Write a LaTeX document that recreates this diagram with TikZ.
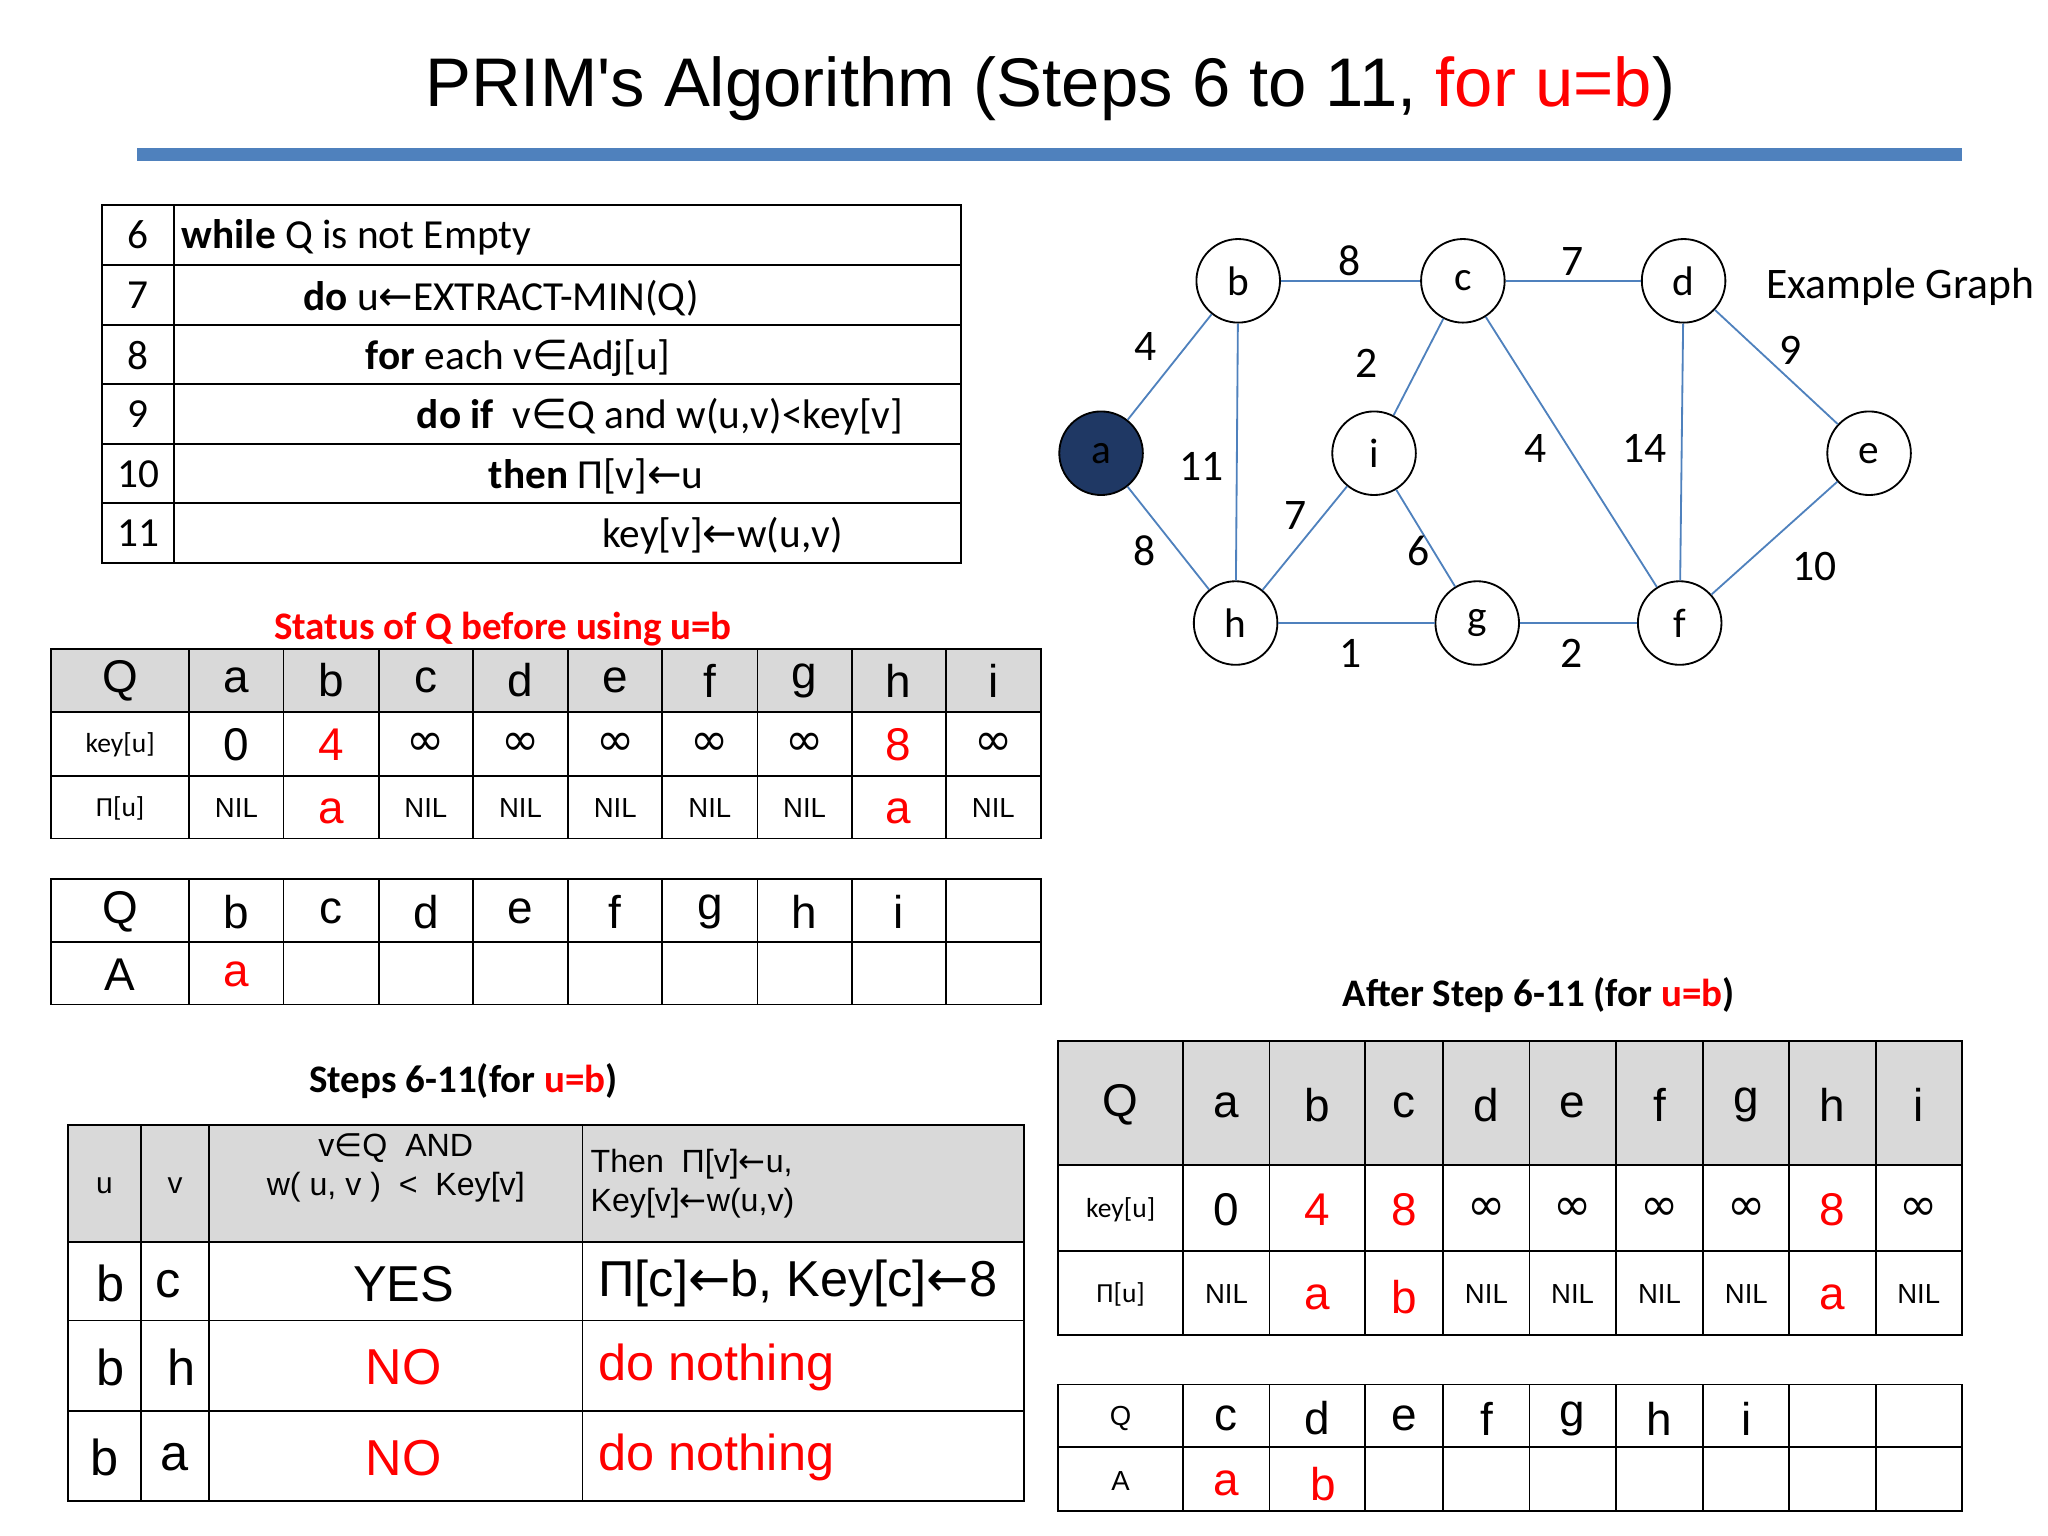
\documentclass[tikz,border=0pt]{standalone}
\usepackage{fontspec}
\setmainfont{Carlito}
\newfontfamily\arfont{Liberation Sans}
\newfontfamily\djfont{DejaVu Sans}
\newcommand\myla{{\djfont\char"2190}}
\newcommand\myin{{\djfont\char"2208}}
\newcommand\myinf{{\djfont\char"221E}}
\definecolor{hb}{RGB}{79,129,189}
\definecolor{gr}{RGB}{217,217,217}
\definecolor{nb}{RGB}{31,56,100}
\begin{document}
\begin{tikzpicture}[x=0.02cm,y=-0.02cm,
  gn/.style={circle,draw,thick,minimum size=1.28cm,inner sep=0pt,font=\fontsize{18}{20}\selectfont},
  ed/.style={hb,thick},
  el/.style={font=\fontsize{19}{21}\selectfont},
  tl/.style={line width=0.8pt},
  cf/.style={font=\fontsize{18}{20}\selectfont,anchor=west},
  big/.style={font=\arfont\fontsize{20}{22}\selectfont},
  sm/.style={font=\fontsize{12}{14}\selectfont},
  bigger/.style={font=\arfont\fontsize{22}{24}\selectfont}]
\useasboundingbox (0,0) rectangle (1568,1176);
% title
\node[font=\arfont\fontsize{30}{32}\selectfont] (title) at (804,68) {PRIM's Algorithm (Steps 6 to 11, \textcolor{red}{for u=b})};
\fill[hb] (105,113) rectangle (1502,123);
% pseudo-code table
\draw[tl] (78,157) rectangle (736,431);
\draw[tl] (133,157) -- (133,431);
\foreach \y in {203,249,294,340,385} \draw[tl] (78,\y) -- (736,\y);
\foreach \n/\y in {6/180,7/226,8/272,9/317,10/363,11/408} \node[font=\fontsize{18}{20}\selectfont] (ln\n) at (106,\y) {\n};
\node[cf] (c6) at (133,182) {\textbf{while} Q is not Empty};
\node[cf] (c7) at (226,228) {\textbf{do} u\myla EXTRACT-MIN(Q)};
\node[cf] (c8) at (274,274) {\textbf{for} each v\myin Adj[u]};
\node[cf] (c9) at (313,319) {\textbf{do if}\ \ v\myin Q and w(u,v)<key[v]};
\node[cf] (c10) at (368,365) {\textbf{then} Π[v]\myla u};
\node[cf] (c11) at (455,410) {key[v]\myla w(u,v)};
% status
\node[font=\bfseries\fontsize{17}{19}\selectfont,text=red] (st) at (385,482) {Status of Q before using u=b};
\fill[gr] (39,497) rectangle (797,545);
\draw[tl] (39,497) rectangle (797,642);
\foreach \y in {545,594} \draw[tl] (39,\y) -- (797,\y);
\foreach \x in {145,217,290,362,435,507,580,652,724} \draw[tl] (\x,497) -- (\x,642);
\foreach \x/\t [count=\i] in {92/Q,181/a,253.5/b,326/c,398.5/d,471/e,543.5/f,616/g,688/h,760.5/i} \node[big] (ta\i) at (\x,521) {\t};
\node[sm] (tk0) at (92,570) {key[u]};
\node[big] (tk1) at (181,570) {0};
\node[big,text=red] (tk2) at (253.5,570) {4};
\foreach \x [count=\i] in {326,398.5,471,543.5,616} \node[big] (tki\i) at (\x,570) {\myinf};
\node[big,text=red] (tk8) at (688,570) {8};
\node[big] (tk9) at (760.5,570) {\myinf};
\node[sm] (tp0) at (92,619) {Π[u]};
\foreach \x [count=\i] in {181,326,398.5,471,543.5,616,760.5} \node[font=\arfont\fontsize{12}{14}\selectfont] (tpn\i) at (\x,619) {NIL};
\node[big,text=red] (tp2) at (253.5,621) {a};
\node[big,text=red] (tp8) at (688,621) {a};
% table 2
\draw[tl] (39,673) rectangle (797,769);
\draw[tl] (39,721) -- (797,721);
\foreach \x in {145,217,290,362,435,507,580,652,724} \draw[tl] (\x,673) -- (\x,769);
\foreach \x/\t [count=\i] in {92/Q,181/b,253.5/c,326/d,398.5/e,471/f,543.5/g,616/h,688/i} \node[big] (tb\i) at (\x,698) {\t};
\node[big] (tbA) at (92,746) {A};
\node[big,text=red] (tba) at (181,746) {a};
% steps table
\node[font=\bfseries\fontsize{17}{19}\selectfont] (s3) at (355,828) {Steps 6-11(for \textcolor{red}{u=b})};
\fill[gr] (52,861) rectangle (784,951);
\draw[tl] (52,861) rectangle (784,1149);
\foreach \y in {951,1011,1080} \draw[tl] (52,\y) -- (784,\y);
\foreach \x in {108,160,446} \draw[tl] (\x,861) -- (\x,1149);
\node[font=\arfont\fontsize{13}{15}\selectfont] (hu) at (80,908) {u};
\node[font=\arfont\fontsize{13}{15}\selectfont] (hv) at (134,908) {v};
\node[font=\arfont\fontsize{14}{17}\selectfont,align=center] (hc) at (303,894) {v\myin Q\ \ AND\\w( u, v )\ \ <\ \ Key[v]};
\node[font=\arfont\fontsize{14}{17}\selectfont,align=left,anchor=west] (hd) at (446,906) {Then\ \ Π[v]\myla u,\\Key[v]\myla w(u,v)};
\node[bigger] (r1u) at (85,983) {b}; \node[bigger] (r1v) at (129,983) {c};
\node[bigger] (r1c) at (309,983) {YES};
\node[bigger,anchor=west] (r1d) at (452,983) {Π[c]\myla b, Key[c]\myla 8};
\node[bigger] (r2u) at (85,1047) {b}; \node[bigger] (r2v) at (139,1047) {h};
\node[bigger,text=red] (r2c) at (309,1047) {NO};
\node[bigger,text=red,anchor=west] (r2d) at (452,1047) {do nothing};
\node[bigger] (r3u) at (80,1116) {b}; \node[bigger] (r3v) at (134,1116) {a};
\node[bigger,text=red] (r3c) at (309,1116) {NO};
\node[bigger,text=red,anchor=west] (r3d) at (452,1116) {do nothing};
% graph
\node[gn,fill=nb] (a) at (843,347) {a};
\node[gn] (b) at (948,215) {b};
\node[gn] (c) at (1120,215) {c};
\node[gn] (d) at (1289,215) {d};
\node[gn] (i) at (1052,347) {i};
\node[gn] (e) at (1431,347) {e};
\node[gn] (h) at (946,477) {h};
\node[gn] (g) at (1131,477) {g};
\node[gn] (f) at (1286,477) {f};
\draw[ed] (a)--(b); \draw[ed] (b)--(c); \draw[ed] (c)--(d); \draw[ed] (d)--(e);
\draw[ed] (a)--(h); \draw[ed] (b)--(h); \draw[ed] (c)--(i); \draw[ed] (c)--(f);
\draw[ed] (d)--(f); \draw[ed] (e)--(f); \draw[ed] (h)--(i); \draw[ed] (i)--(g);
\draw[ed] (h)--(g); \draw[ed] (g)--(f);
\foreach \x/\y/\t [count=\i] in {877/265/4,1033/200/8,1204/200/7,1371/268/9,920/357/11,1046/278/2,1176/343/4,1259/343/14,1389/434/10,876/422/8,992/395/7,1086/422/6,1034/500/1,1203/500/2}
  \node[el] (w\i) at (\x,\y) {\t};
\node[el,anchor=west] (eg) at (1346,220) {Example Graph};
% after table
\node[font=\bfseries\fontsize{17}{19}\selectfont] (s4) at (1178,762) {After Step 6-11 (for \textcolor{red}{u=b})};
\fill[gr] (810,797) rectangle (1502,892);
\draw[tl] (810,797) rectangle (1502,1022);
\foreach \y in {892,958} \draw[tl] (810,\y) -- (1502,\y);
\foreach \x in {906,972,1045,1105,1171,1237,1304,1370,1436} \draw[tl] (\x,797) -- (\x,1022);
\foreach \x/\t [count=\i] in {858/Q,939/a,1008.5/b,1075/c,1138/d,1204/e,1270.5/f,1337/g,1403/h,1469/i} \node[big] (tc\i) at (\x,846) {\t};
\node[sm] (ak0) at (858,926) {key[u]};
\node[big] (ak1) at (939,926) {0};
\node[big,text=red] (ak2) at (1008.5,926) {4};
\node[big,text=red] (ak3) at (1075,926) {8};
\foreach \x [count=\i] in {1138,1204,1270.5,1337,1469} \node[big] (aki\i) at (\x,926) {\myinf};
\node[big,text=red] (ak9) at (1403,926) {8};
\node[sm] (ap0) at (858,991) {Π[u]};
\foreach \x [count=\i] in {939,1138,1204,1270.5,1337,1469} \node[font=\arfont\fontsize{12}{14}\selectfont] (apn\i) at (\x,991) {NIL};
\node[big,text=red] (ap2) at (1008.5,993) {a};
\node[big,text=red] (ap3) at (1075,993) {b};
\node[big,text=red] (ap9) at (1403,993) {a};
% table 5
\draw[tl] (810,1060) rectangle (1502,1157);
\draw[tl] (810,1108) -- (1502,1108);
\foreach \x in {906,972,1045,1105,1171,1237,1304,1370,1436} \draw[tl] (\x,1060) -- (\x,1157);
\node[font=\arfont\fontsize{12}{14}\selectfont] (fq) at (858,1086) {Q};
\foreach \x/\t [count=\i] in {939/c,1008.5/d,1075/e,1138/f,1204/g,1270.5/h,1337/i} \node[big] (td\i) at (\x,1086) {\t};
\node[font=\arfont\fontsize{12}{14}\selectfont] (fa) at (858,1134) {A};
\node[big,text=red] (fa1) at (939,1136) {a};
\node[big,text=red] (fa2) at (1013,1136) {b};
\end{tikzpicture}
\end{document}
